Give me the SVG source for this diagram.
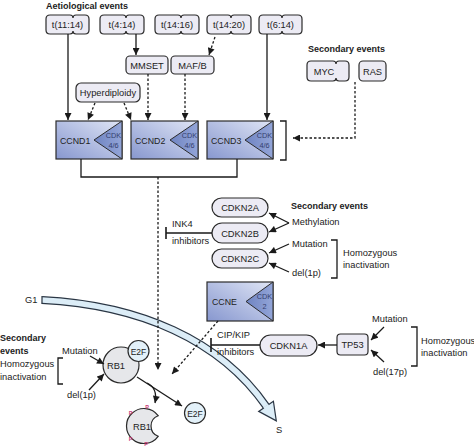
<svg xmlns="http://www.w3.org/2000/svg" width="474" height="448" viewBox="0 0 474 448">
<defs>
<linearGradient id="cg" x1="0" y1="1" x2="1" y2="0">
<stop offset="0" stop-color="#8797cf"/>
<stop offset="1" stop-color="#dfe5f5"/>
</linearGradient>
<linearGradient id="tg" x1="0" y1="0" x2="1" y2="0">
<stop offset="0" stop-color="#6f84c2"/>
<stop offset="1" stop-color="#93a5d8"/>
</linearGradient>
<marker id="ah" viewBox="0 0 10 10" refX="10" refY="5" markerWidth="8" markerHeight="7" markerUnits="userSpaceOnUse" orient="auto">
<path d="M0,0 L10,5 L0,10 z" fill="#1a1a1a"/>
</marker>
</defs>
<style>
text{font-family:"Liberation Sans",Arial,sans-serif;fill:#222;font-size:9.3px}
.b{font-weight:bold;font-size:9px}
.c{text-anchor:middle}
.n{font-size:8.8px}
.box{fill:#ecebf4;stroke:#2b2b2b;stroke-width:1.2}
.cc{fill:url(#cg);stroke:#2b2b2b;stroke-width:1.2}
.tri{fill:url(#tg);stroke:#2b2b2b;stroke-width:1}
.cdk{font-size:7.3px;fill:#34406e;text-anchor:middle}
.ln{fill:none;stroke:#1a1a1a;stroke-width:1.3}
.dl{fill:none;stroke:#1a1a1a;stroke-width:1.3;stroke-dasharray:2.5 2}
.ar{marker-end:url(#ah)}
.circ{stroke:#2b2b2b;stroke-width:1.2}
.p{font-size:5.5px;fill:#c8407a;font-weight:bold;text-anchor:middle}
</style>

<g id="cycle">
<path d="M42 300 C140 305 220 340 266 406" fill="none" stroke="#2a3644" stroke-width="8"/>
<polygon points="276.3,420.8 273.4,401.2 258.7,411.4" fill="#dcedf7" stroke="#2a3644" stroke-width="1.2"/>
<path d="M42 300 C140 305 220 340 266 406" fill="none" stroke="#dcedf7" stroke-width="5.6"/>
<line x1="265.8" y1="405.7" x2="267.5" y2="408.2" stroke="#dcedf7" stroke-width="5.6"/>
<line x1="42" y1="296" x2="42" y2="304" stroke="#2a3644" stroke-width="1.2"/>
<text x="25" y="303">G1</text>
<text x="276" y="433">S</text>
</g>

<text class="b" x="46" y="9">Aetiological events</text>
<text class="b" x="308" y="52">Secondary events</text>

<g id="t1114">
<path class="box" d="M50 15 H70 Q73 15 73 18 Q73 15 76 15 H85 Q89 15 89 19 V30 Q89 34 85 34 H76 Q73 34 73 31 Q73 34 70 34 H50 Q46 34 46 30 V19 Q46 15 50 15 Z"/>
<text class="c" x="67.5" y="28">t(11:14)</text>
</g>
<g id="t414">
<path class="box" d="M104 15 H123 Q126 15 126 18 Q126 15 129 15 H140 Q144 15 144 19 V30 Q144 34 140 34 H129 Q126 34 126 31 Q126 34 123 34 H104 Q100 34 100 30 V19 Q100 15 104 15 Z"/>
<text class="c" x="122" y="28">t(4:14)</text>
</g>
<g id="t1416">
<path class="box" d="M159 15 H178 Q181 15 181 18 Q181 15 184 15 H195 Q199 15 199 19 V30 Q199 34 195 34 H184 Q181 34 181 31 Q181 34 178 34 H159 Q155 34 155 30 V19 Q155 15 159 15 Z"/>
<text class="c" x="177" y="28">t(14:16)</text>
</g>
<g id="t1420">
<path class="box" d="M211 15 H228 Q231 15 231 18 Q231 15 234 15 H247 Q251 15 251 19 V30 Q251 34 247 34 H234 Q231 34 231 31 Q231 34 228 34 H211 Q207 34 207 30 V19 Q207 15 211 15 Z"/>
<text class="c" x="229" y="28">t(14:20)</text>
</g>
<g id="t614">
<path class="box" d="M263 15 H279 Q282 15 282 18 Q282 15 285 15 H298 Q302 15 302 19 V30 Q302 34 298 34 H285 Q282 34 282 31 Q282 34 279 34 H263 Q259 34 259 30 V19 Q259 15 263 15 Z"/>
<text class="c" x="280.5" y="28">t(6:14)</text>
</g>
<g id="mmset">
<rect class="box" x="126" y="56" width="42" height="18" rx="4"/>
<text class="c" x="147" y="68.5">MMSET</text>
</g>
<g id="mafb">
<rect class="box" x="171" y="56" width="43" height="18" rx="4"/>
<text class="c" x="192.5" y="68.5">MAF/B</text>
</g>
<g id="hyper">
<rect class="box" x="76" y="83" width="64" height="19" rx="5"/>
<text class="c" x="108" y="96">Hyperdiploidy</text>
</g>
<g id="myc">
<path class="box" d="M311 61 H333 Q336 61 336 64 Q336 61 339 61 H345 Q349 61 349 65 V77 Q349 81 345 81 H339 Q336 81 336 78 Q336 81 333 81 H311 Q307 81 307 77 V65 Q307 61 311 61 Z"/>
<text class="c" x="324" y="74.5">MYC</text>
</g>
<g id="ras">
<rect class="box" x="359" y="61" width="27" height="20" rx="4"/>
<text class="c" x="372.5" y="74.5">RAS</text>
</g>

<g id="ccnd1">
<rect class="cc" x="56" y="121" width="66" height="38"/>
<path class="tri" d="M122 121 V159 L94 140 Z"/>
<text class="n" x="60" y="143.5">CCND1</text>
<text class="cdk" x="113.5" y="137.5">CDK</text>
<text class="cdk" x="113.5" y="148">4/6</text>
</g>
<g id="ccnd2">
<rect class="cc" x="131" y="121" width="67" height="38"/>
<path class="tri" d="M198 121 V159 L170 140 Z"/>
<text class="n" x="135" y="143.5">CCND2</text>
<text class="cdk" x="189.5" y="137.5">CDK</text>
<text class="cdk" x="189.5" y="148">4/6</text>
</g>
<g id="ccnd3">
<rect class="cc" x="207" y="121" width="66" height="38"/>
<path class="tri" d="M273 121 V159 L245 140 Z"/>
<text class="n" x="211" y="143.5">CCND3</text>
<text class="cdk" x="264.5" y="137.5">CDK</text>
<text class="cdk" x="264.5" y="148">4/6</text>
</g>

<g id="cdkn2a">
<rect class="box" x="212" y="198" width="56" height="19" rx="9.5"/>
<text class="c" x="240" y="211">CDKN2A</text>
</g>
<g id="cdkn2b">
<rect class="box" x="212" y="223" width="56" height="20" rx="10"/>
<text class="c" x="240" y="236.5">CDKN2B</text>
</g>
<g id="cdkn2c">
<rect class="box" x="212" y="249" width="56" height="19" rx="9.5"/>
<text class="c" x="240" y="262">CDKN2C</text>
</g>
<text class="b" x="291" y="209">Secondary events</text>
<text x="292" y="225">Methylation</text>
<text x="292" y="247">Mutation</text>
<text x="292" y="276">del(1p)</text>
<text x="343" y="256">Homozygous</text>
<text x="343" y="268">inactivation</text>
<text x="172" y="227">INK4</text>
<text x="172" y="244">inhibitors</text>

<g id="ccne">
<rect class="cc" x="207" y="282" width="66" height="39"/>
<path class="tri" d="M273 282 V321 L246 301.5 Z"/>
<text class="n" x="212" y="305">CCNE</text>
<text class="cdk" x="264.5" y="298.5">CDK</text>
<text class="cdk" x="264.5" y="309">2</text>
</g>
<g id="cdkn1a">
<rect class="box" x="260" y="335" width="57" height="21" rx="10.5"/>
<text class="c" x="288.5" y="349">CDKN1A</text>
</g>
<g id="tp53">
<rect class="box" x="337" y="334" width="31" height="21" rx="3.5"/>
<text class="c" x="352.5" y="348">TP53</text>
</g>
<text x="217" y="338">CIP/KIP</text>
<text x="217" y="355">inhibitors</text>
<text x="372" y="322">Mutation</text>
<text x="373" y="375">del(17p)</text>
<text x="421" y="344">Homozygous</text>
<text x="421" y="356">inactivation</text>

<text class="b" x="0" y="341">Secondary</text>
<text class="b" x="0" y="354">events</text>
<text x="62" y="354">Mutation</text>
<text x="0" y="367">Homozygous</text>
<text x="0" y="380">inactivation</text>
<text x="67" y="398">del(1p)</text>

<g id="rb1">
<circle class="circ" cx="121" cy="365" r="18" fill="#e6e7ea"/>
<text class="c" x="116" y="369">RB1</text>
</g>
<g id="e2f_bound">
<circle class="circ" cx="138.5" cy="351" r="10.5" fill="#e3f1f9"/>
<text class="c" x="138.5" y="354.5" style="font-size:8.5px">E2F</text>
</g>
<g id="rb1p">
<path class="circ" fill="#e6e7ea" d="M158.15 415.7 A17.5 17.5 0 1 0 158.15 436.3 A11 11 0 0 1 158.15 415.7 Z"/>
<text class="c" x="142" y="430">RB1</text>
<text class="p" x="147" y="409">P</text>
<text class="p" x="130.5" y="415">P</text>
<text class="p" x="130.5" y="441">P</text>
<text class="p" x="146" y="446">P</text>
</g>
<g id="e2f_free">
<circle class="circ" cx="195" cy="413" r="10.5" fill="#e3f1f9"/>
<text class="c" x="195" y="416.5" style="font-size:8.5px">E2F</text>
</g>

<g id="connectors">
<path class="ln ar" d="M68 34 V120"/>
<path class="ln ar" d="M136 34 V55"/>
<path class="dl ar" d="M215 37 L209 55"/>
<path class="dl ar" d="M148 74 V120"/>
<path class="dl ar" d="M185 74 V120"/>
<path class="dl ar" d="M95 103 L88 120"/>
<path class="dl ar" d="M124 103 L131 120"/>
<path class="ln ar" d="M267 34 V120"/>
<path class="dl ar" d="M355 82 V138 H293"/>
<path class="ln" d="M280 121 H286 V160 H280"/>
<path class="ln" d="M81 159 V177 H237 V159"/>
<path class="dl ar" d="M158 177 V370"/>
<path class="ln" d="M212 233 H166 M166 227 V239" style="stroke-width:1.6"/>
<path class="ln ar" d="M289 223 L269 213"/>
<path class="ln ar" d="M289 223 L269 232"/>
<path class="ln ar" d="M289 244 L269 253"/>
<path class="ln ar" d="M289 272 L269 263"/>
<path class="ln" d="M331 240 H337 V278 H331"/>
<path class="dl ar" d="M218 321 L172 374"/>
<path class="ln" d="M260 345 H211 M211 338 V352" style="stroke-width:1.6"/>
<path class="ln ar" d="M337 345 H318"/>
<path class="ln ar" d="M384 327 L371 340"/>
<path class="ln ar" d="M384 362 L371 350"/>
<path class="ln" d="M411 327 H417 V366 H411"/>
<path class="ln ar" d="M90 356 L104 364"/>
<path class="ln ar" d="M89 390 L104 374"/>
<path class="ln" d="M63 358 H58 V384 H63"/>
<path class="ln ar" d="M137 377 L182 406"/>
<path class="ln ar" d="M147 383 Q158 388 155 403"/>
</g>
</svg>
